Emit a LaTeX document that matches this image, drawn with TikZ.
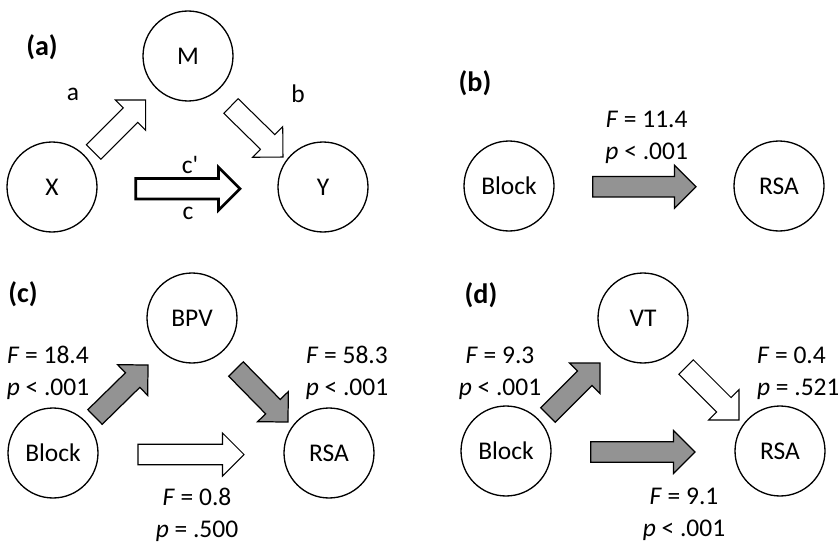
\documentclass[tikz,border=0pt]{standalone}
\usepackage{fontspec}
\setmainfont{Carlito}
\usepackage{tikz}
\usetikzlibrary{calc}

\definecolor{pathgray}{RGB}{147,147,147}

% block arrow from coordinate #2 (tail) to coordinate #3 (tip)
\newcommand{\blockarrow}[3][]{%
  \coordinate (#2-s) at ($(#3)!0.43cm!(#2)$);
  \draw[#1] ($(#2)!0.205cm!-90:(#3)$) -- ($(#2-s)!0.205cm!-90:(#3)$)
    -- ($(#2-s)!0.43cm!-90:(#3)$) -- (#3) -- ($(#2-s)!0.43cm!90:(#3)$)
    -- ($(#2-s)!0.205cm!90:(#3)$) -- ($(#2)!0.205cm!90:(#3)$) -- cycle;
}

\begin{document}
\begin{tikzpicture}[
  x=0.02cm, y=-0.02cm,
  var/.style={circle, draw, line width=0.75pt, minimum size=1.8cm, inner sep=0pt,
    font=\fontsize{14.5}{17}\selectfont},
  panel/.style={font=\fontsize{16}{19}\selectfont\bfseries, inner sep=0pt},
  lbl/.style={font=\fontsize{14.5}{17}\selectfont, inner sep=0pt},
  stat/.style={align=center, font=\fontsize{14.5}{18.2}\selectfont, inner sep=0pt},
  openarrow/.style={draw, line width=0.6pt, fill=white, line join=miter},
  thickarrow/.style={openarrow, line width=1.5pt},
  shadearrow/.style={draw, line width=0.7pt, fill=pathgray, line join=miter}
]
\useasboundingbox (0,0) rectangle (838,544);

% --- (a) simple mediation model ---
\node[panel] (pa) at (42,47) {(a)};
\node[var] (X) at (52,187) {X};
\node[var] (M) at (188,56) {M};
\node[var] (Y) at (323,187) {Y};

\coordinate (a-tail) at (93.7,152);  \coordinate (a-tip) at (145.7,100);
\coordinate (b-tail) at (231,106);   \coordinate (b-tip) at (283,157);
\coordinate (c-tail) at (135.7,188.7); \coordinate (c-tip) at (240,188.7);
\blockarrow[openarrow]{a-tail}{a-tip}
\blockarrow[openarrow]{b-tail}{b-tip}
\blockarrow[thickarrow]{c-tail}{c-tip}

\node[lbl] (la) at (73,94) {a};
\node[lbl] (lb) at (298,94) {b};
\node[lbl] (lcp) at (190,165) {c\textquotesingle};
\node[lbl] (lc) at (188,213) {c};

% --- (b) Block -> RSA ---
\node[panel] (pb) at (475,83) {(b)};
\node[var] (blockb) at (509,186) {Block};
\node[var] (rsab) at (779,186) {RSA};
\coordinate (bt-tail) at (592.7,186.7); \coordinate (bt-tip) at (696,186.7);
\blockarrow[shadearrow]{bt-tail}{bt-tip}
\node[stat] (sb) at (646.7,137.5) {\textit{F} = 11.4\\\textit{p} < .001};

% --- (c) mediation through BPV ---
\node[panel] (pc) at (23,294) {(c)};
\node[var] (bpv) at (192,318) {BPV};
\node[var] (blockc) at (53,453) {Block};
\node[var] (rsac) at (329,453) {RSA};
\coordinate (ca-tail) at (95,417);    \coordinate (ca-tip) at (148,365);
\coordinate (cb-tail) at (236,369);   \coordinate (cb-tip) at (288,422);
\coordinate (cc-tail) at (138,454.5); \coordinate (cc-tip) at (244,454.5);
\blockarrow[shadearrow]{ca-tail}{ca-tip}
\blockarrow[shadearrow]{cb-tail}{cb-tip}
\blockarrow[openarrow]{cc-tail}{cc-tip}
\node[stat] (sca) at (48,373) {\textit{F} = 18.4\\\textit{p} < .001};
\node[stat] (scb) at (347,373) {\textit{F} = 58.3\\\textit{p} < .001};
\node[stat] (scc) at (197,514.5) {\textit{F} = 0.8\\\textit{p} = .500};

% --- (d) mediation through VT ---
\node[panel] (pd) at (481,295) {(d)};
\node[var] (vt) at (643,318) {VT};
\node[var] (blockd) at (506,451) {Block};
\node[var] (rsad) at (780,451) {RSA};
\coordinate (da-tail) at (548,415);   \coordinate (da-tip) at (600,363);
\coordinate (db-tail) at (686,367);   \coordinate (db-tip) at (739,420);
\coordinate (dc-tail) at (590.7,452); \coordinate (dc-tip) at (695,452);
\blockarrow[shadearrow]{da-tail}{da-tip}
\blockarrow[openarrow]{db-tail}{db-tip}
\blockarrow[shadearrow]{dc-tail}{dc-tip}
\node[stat] (sda) at (500,373) {\textit{F} = 9.3\\\textit{p} < .001};
\node[stat, align=left, anchor=west] (sdb) at (756.7,373) {\textit{F} = 0.4\\\textit{p} = .521};
\node[stat] (sdc) at (684,514.5) {\textit{F} = 9.1\\\textit{p} < .001};

\end{tikzpicture}
\end{document}
